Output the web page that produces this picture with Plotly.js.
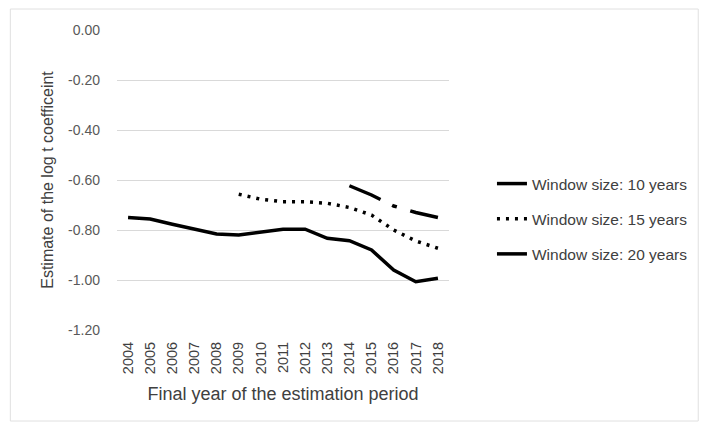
<!DOCTYPE html>
<html><head><meta charset="utf-8">
<script src="https://cdn.plot.ly/plotly-3.0.1.min.js"></script>
<style>html,body{margin:0;padding:0;background:#fff}#c{width:704px;height:426px}</style>
</head><body><div id="c"></div>
<script>
const years = ['2004','2005','2006','2007','2008','2009','2010','2011','2012','2013','2014','2015','2016','2017','2018'];
const win10 = [-0.75,-0.756,-0.777,-0.797,-0.816,-0.82,-0.81,-0.797,-0.797,-0.833,-0.843,-0.88,-0.96,-1.007,-0.993];
const win15 = [null,null,null,null,null,-0.657,-0.677,-0.687,-0.687,-0.693,-0.71,-0.74,-0.80,-0.844,-0.873];
const win20 = [null,null,null,null,null,null,null,null,null,null,-0.623,-0.66,-0.704,-0.73,-0.75];
const names = ['Window size: 10 years','Window size: 15 years','Window size: 20 years'];
const yTicks = [0,-0.2,-0.4,-0.6,-0.8,-1.0,-1.2];
const yTickText = ['0.00','-0.20','-0.40','-0.60','-0.80','-1.00','-1.20'];

const font = 'Liberation Sans, Arial, sans-serif';
const traces = [
  {x: years, y: win10, name: names[0], legendgroup:'a', mode:'lines', line:{color:'#000', width:3.5}},
  {x: years, y: win15, name: names[1], legendgroup:'b', mode:'lines', line:{color:'#000', width:3.5, dash:'3px,6px'}},
  {x: years, y: win20, name: names[2], legendgroup:'c', mode:'lines', line:{color:'#000', width:3.5, dash:'34px,13px,5px,14px'}}
];
const layout = {
  width:704, height:426,
  margin:{l:117, r:254, t:30, b:96},
  paper_bgcolor:'#fff', plot_bgcolor:'#fff',
  font:{family:font, size:12, color:'#595959'},
  showlegend:true,
  legend:{x:1.126, y:0.37, xanchor:'left', yanchor:'middle', font:{family:font, size:15.5, color:'#404040'}, tracegroupgap:12, itemwidth:30, bgcolor:'rgba(0,0,0,0)'},
  xaxis:{type:'category', range:[-0.5,14.5], tickangle:-90, showgrid:false, zeroline:false, showline:false, ticks:'',
    ticklabelstandoff:8,
    tickfont:{family:font, size:14.5, color:'#404040'},
    title:{text:'Final year of the estimation period', font:{family:font, size:18, color:'#404040'}, standoff:14}},
  yaxis:{range:[-1.2,0], tickvals:yTicks, ticktext:yTickText, showgrid:true, gridcolor:'#d9d9d9', gridwidth:1,
    zeroline:false, showline:false, ticks:'', ticklabelstandoff:16, tickfont:{family:font, size:14, color:'#595959'},
    title:{text:'Estimate of the log t coefficeint', font:{family:font, size:16, color:'#404040'}, standoff:10}},
  shapes:[{type:'rect', xref:'paper', yref:'paper', x0:(10-117)/333, x1:(700-117)/333, y0:(330-421)/300, y1:(330-9)/300,
    line:{color:'#e0e0e0', width:1}, fillcolor:'rgba(0,0,0,0)'}]
};
Plotly.newPlot('c', traces, layout, {displayModeBar:false, staticPlot:true});
</script></body></html>
